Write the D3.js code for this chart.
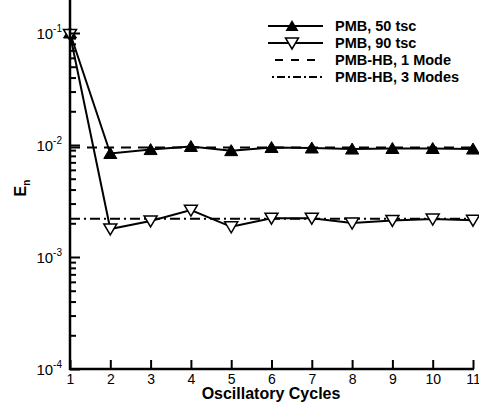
<!DOCTYPE html>
<html>
<head>
<meta charset="utf-8">
<script src="https://cdn.jsdelivr.net/npm/d3@7"></script>
<style>
  html, body { margin: 0; padding: 0; background: #fff; }
  svg { display: block; font-family: "Liberation Sans", Arial, sans-serif; }
</style>
</head>
<body>
<svg id="chart" width="479" height="408"></svg>
<script>
// Error norm E_n over oscillatory cycles
const cycles = [1, 2, 3, 4, 5, 6, 7, 8, 9, 10, 11];
const pmb50 = [0.100, 0.0084, 0.0091, 0.0097, 0.0089, 0.0095, 0.0094, 0.0092, 0.0093, 0.0093, 0.0092];
const pmb90 = [0.097, 0.00178, 0.0021, 0.00262, 0.00186, 0.00222, 0.00222, 0.00201, 0.00212, 0.00218, 0.00213];
const hb1Mode = 0.0095;
const hb3Modes = 0.0022;
const xTicks = [1, 2, 3, 4, 5, 6, 7, 8, 9, 10, 11];
const yMajorExps = [-4, -3, -2, -1];
const legendLabels = ["PMB, 50 tsc", "PMB, 90 tsc", "PMB-HB, 1 Mode", "PMB-HB, 3 Modes"];

const FONT = "'Liberation Sans', Arial, sans-serif";
const svg = d3.select("#chart");
const x = d3.scaleLinear().domain([1, 11]).range([70, 473]);
const y = d3.scaleLog().domain([1e-4, 1]).range([369, -79]);
const yTop = 0;

// minor ticks 2..9 per decade, visible part only
const minor = [];
yMajorExps.forEach(e => { for (let k = 2; k <= 9; k++) { const v = k * Math.pow(10, e); if (y(v) >= yTop) minor.push(v); } });

const g = svg.append("g");

// reference lines
g.append("line").attr("x1", x(1)).attr("x2", x(11)).attr("y1", y(hb1Mode)).attr("y2", y(hb1Mode))
  .attr("stroke", "#000").attr("stroke-width", 2).attr("stroke-dasharray", "10,7");
g.append("line").attr("x1", x(1)).attr("x2", x(11)).attr("y1", y(hb3Modes)).attr("y2", y(hb3Modes))
  .attr("stroke", "#000").attr("stroke-width", 2).attr("stroke-dasharray", "10,4,2,4");

const line = d3.line().x((d, i) => x(cycles[i])).y(d => y(d));
g.append("path").datum(pmb50).attr("d", line).attr("fill", "none").attr("stroke", "#000").attr("stroke-width", 2);
g.append("path").datum(pmb90).attr("d", line).attr("fill", "none").attr("stroke", "#000").attr("stroke-width", 2);

const triUp = "M0,-6L6.5,5L-6.5,5Z";
const triDown = "M0,6L6.5,-5L-6.5,-5Z";
g.selectAll(".m50").data(pmb50).enter().append("path")
  .attr("transform", (d, i) => `translate(${x(cycles[i])},${y(d)})`)
  .attr("d", triUp).attr("fill", "#000").attr("stroke", "#000").attr("stroke-width", 1);
g.selectAll(".m90").data(pmb90).enter().append("path")
  .attr("transform", (d, i) => `translate(${x(cycles[i])},${y(d)})`)
  .attr("d", triDown).attr("fill", "#fff").attr("stroke", "#000").attr("stroke-width", 1.5);

// axes
const xAxis = d3.axisBottom(x).tickValues(xTicks).tickSize(-9).tickFormat(d3.format("d"));
const gx = svg.append("g").attr("transform", `translate(0,${y(1e-4)})`).call(xAxis)
  .attr("font-family", FONT).attr("font-size", 14);
gx.select(".domain").remove();
gx.selectAll(".tick line").attr("stroke-width", 2);
gx.selectAll(".tick text").attr("fill", "#000").attr("y", 14.5).attr("dy", 0);

const gyMinor = svg.append("g").attr("transform", `translate(${x(1)},0)`)
  .call(d3.axisLeft(y).tickValues(minor).tickSize(-6).tickFormat(""));
gyMinor.select(".domain").remove();
gyMinor.selectAll(".tick line").attr("stroke-width", 2);

const gy = svg.append("g").attr("transform", `translate(${x(1)},0)`)
  .call(d3.axisLeft(y).tickValues(yMajorExps.map(e => Math.pow(10, e))).tickSize(-10).tickFormat(""))
  .attr("font-family", FONT);
gy.select(".domain").remove();
gy.selectAll(".tick line").attr("stroke-width", 2);
gy.selectAll(".tick").append("text")
  .attr("x", -8).attr("y", 5.5).attr("text-anchor", "end").attr("fill", "#000").attr("font-size", 15)
  .each(function(d) {
    const t = d3.select(this);
    t.append("tspan").text("10");
    t.append("tspan").attr("dy", -7).attr("font-size", 10).text(String(Math.round(Math.log10(d))));
  });

svg.append("line").attr("x1", x(1)).attr("x2", x(1)).attr("y1", yTop).attr("y2", y(1e-4) + 1)
  .attr("stroke", "#000").attr("stroke-width", 2.5);
svg.append("line").attr("x1", x(1) - 1).attr("x2", x(11) + 1).attr("y1", y(1e-4)).attr("y2", y(1e-4))
  .attr("stroke", "#000").attr("stroke-width", 2.5);

// axis titles
svg.append("text").attr("x", 271).attr("y", 399).attr("text-anchor", "middle")
  .attr("font-size", 16).attr("font-weight", "bold").text("Oscillatory Cycles");
const yl = svg.append("text").attr("transform", "translate(26,188) rotate(-90)")
  .attr("text-anchor", "middle").attr("font-size", 16).attr("font-weight", "bold");
yl.append("tspan").text("E");
yl.append("tspan").attr("dy", 4).attr("font-size", 10).text("n");

// legend
const leg = svg.append("g");
const rowsY = [26, 43, 60, 77];
legendLabels.forEach((lab, i) => {
  const ry = rowsY[i];
  const ln = leg.append("line").attr("x1", 268).attr("x2", 323).attr("y1", ry).attr("y2", ry)
    .attr("stroke", "#000").attr("stroke-width", 2);
  if (i === 2) ln.attr("x1", 275).attr("stroke-dasharray", "8,8");
  if (i === 3) ln.attr("x1", 272).attr("stroke-dasharray", "2,3,8,3");
  if (i === 0) leg.append("path").attr("transform", `translate(292,${ry})`).attr("d", triUp).attr("fill", "#000");
  if (i === 1) leg.append("path").attr("transform", `translate(292,${ry})`).attr("d", triDown)
    .attr("fill", "#fff").attr("stroke", "#000").attr("stroke-width", 1.5);
  leg.append("text").attr("x", 335).attr("y", ry + 5).attr("font-size", 14.5).attr("font-weight", "bold").text(lab);
});
</script>
</body>
</html>
